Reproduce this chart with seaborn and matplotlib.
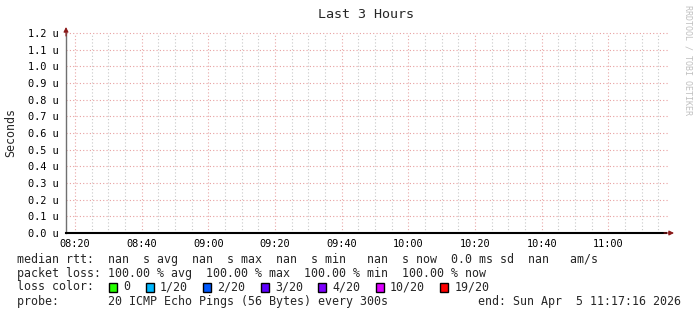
import numpy as np
import pandas as pd
import matplotlib
matplotlib.use("Agg")
import matplotlib.pyplot as plt
import matplotlib.dates as mdates
from matplotlib.patches import Rectangle
import seaborn as sns

# ---- data ----
start_time = "2026-04-05 08:17:16"
end_time = "2026-04-05 11:17:16"
sample_times = pd.date_range(start_time, end_time, freq="300s")
median_rtt = [np.nan] * len(sample_times)          # no replies -> all nan
packet_loss = [100.0] * len(sample_times)
y_ticks = [0.0, 0.1, 0.2, 0.3, 0.4, 0.5, 0.6, 0.7, 0.8, 0.9, 1.0, 1.1, 1.2]
y_tick_labels = [f"{v:.1f} u" for v in y_ticks]
loss_labels = ["0", "1/20", "2/20", "3/20", "4/20", "10/20", "19/20"]
loss_colors = ["#26ff00", "#00b8ff", "#0059ff", "#5e00ff", "#7e00ff", "#dd00ff", "#ff0000"]

title = "Last 3 Hours"
y_label = "Seconds"
line_rtt = "median rtt:  nan  s avg  nan  s max  nan  s min   nan  s now  0.0 ms sd  nan   am/s"
line_loss = "packet loss: 100.00 % avg  100.00 % max  100.00 % min  100.00 % now"
line_color = "loss color:"
line_probe = "probe:       20 ICMP Echo Pings (56 Bytes) every 300s"
line_end = "end: Sun Apr  5 11:17:16 2026"
watermark = "RRDTOOL / TOBI OETIKER"

# ---- figure ----
sns.set_style("white")
plt.rcParams["font.family"] = ["DejaVu Sans Mono", "DejaVu Sans"]
W, H = 697, 315
fig = plt.figure(figsize=(W / 100, H / 100), dpi=100)
fig.patch.set_facecolor("white")

def fx(x):
    return x / W

def fy(y):
    return 1 - y / H

ax_l, ax_r, ax_t, ax_b = 66, 666, 33, 233
ax = fig.add_axes([fx(ax_l), fy(ax_b), (ax_r - ax_l) / W, (ax_b - ax_t) / H])
ax.set_facecolor("white")

df = pd.DataFrame({"time": sample_times, "rtt": np.array(median_rtt) * 1e6, "loss": packet_loss})
sns.lineplot(data=df, x="time", y="rtt", ax=ax, color="#26ff00", legend=False)

t0 = pd.Timestamp(start_time)
t1 = pd.Timestamp(end_time)
ax.set_xlim(t0, t1)
ax.set_ylim(0, 1.2)

ax.xaxis.set_major_locator(mdates.MinuteLocator(byminute=[0, 20, 40]))
ax.xaxis.set_minor_locator(mdates.MinuteLocator(byminute=range(0, 60, 5)))
ax.xaxis.set_major_formatter(mdates.DateFormatter("%H:%M"))
ax.set_yticks(y_ticks)
ax.set_yticklabels(y_tick_labels)

# grids (rrdtool style)
for t in pd.date_range(t0.ceil("5min"), t1, freq="5min"):
    major = t.minute % 20 == 0
    ax.axvline(t, color="#e8a8a8" if major else "#c8c8c8", lw=0.8,
               ls=(0, (1, 2)), zorder=0)
for v in y_ticks[1:]:
    ax.axhline(v, xmin=0, xmax=1.004, color="#e8a0a0", lw=0.8, ls=(0, (1, 2)),
               zorder=0, clip_on=False)

for s in ["top", "right"]:
    ax.spines[s].set_visible(False)
ax.spines["left"].set_color("#707070")
ax.spines["left"].set_linewidth(1.0)
ax.spines["bottom"].set_color("black")
ax.spines["bottom"].set_linewidth(1.5)

ax.tick_params(axis="y", which="major", length=3, width=0.8, color="#a06060",
               labelsize=7.4, pad=2, labelcolor="black")
ax.tick_params(axis="x", which="major", length=3, width=0.8, color="#a06060",
               labelsize=7.4, pad=1.5, labelcolor="black")
ax.tick_params(axis="x", which="minor", length=2, width=0.6, color="#a06060")
ax.set_xlabel("")
ax.set_ylabel("")

# axis arrows
ax.annotate("", xy=(fx(674), fy(233)), xytext=(fx(664), fy(233)),
            xycoords="figure fraction", textcoords="figure fraction",
            arrowprops=dict(arrowstyle="-|>", color="#8b1a1a", lw=0.8,
                            mutation_scale=7, shrinkA=0, shrinkB=0))
ax.annotate("", xy=(fx(66), fy(27)), xytext=(fx(66), fy(36)),
            xycoords="figure fraction", textcoords="figure fraction",
            arrowprops=dict(arrowstyle="-|>", color="#8b1a1a", lw=0.8,
                            mutation_scale=7, shrinkA=0, shrinkB=0))

# texts
fig.text(fx(366), fy(14), title, ha="center", va="center", fontsize=9.6)
fig.text(fx(11), fy(132), y_label, ha="center", va="center", rotation=90, fontsize=8.4)
fig.text(fx(688), fy(5), watermark, ha="center", va="top", rotation=270,
         fontsize=6.0, color="#c0c0c0")

fs = 8.4
fig.text(fx(17), fy(259), line_rtt, ha="left", va="center", fontsize=fs)
fig.text(fx(17), fy(273), line_loss, ha="left", va="center", fontsize=fs)
fig.text(fx(17), fy(287), line_color, ha="left", va="center", fontsize=fs)
fig.text(fx(17), fy(301), line_probe, ha="left", va="center", fontsize=fs)
fig.text(fx(681), fy(301), line_end, ha="right", va="center", fontsize=fs)

sq_x = 109.0
for lab, col in zip(loss_labels, loss_colors):
    fig.patches.append(Rectangle((fx(sq_x), fy(292)), 8 / W, 9 / H,
                                 transform=fig.transFigure, facecolor=col,
                                 edgecolor="black", lw=1.0))
    fig.text(fx(sq_x + 14.5), fy(287), lab, ha="left", va="center", fontsize=fs)
    sq_x += 14.5 + 7 * len(lab) + 15

fig.savefig("out.png", dpi=100, facecolor="white")
